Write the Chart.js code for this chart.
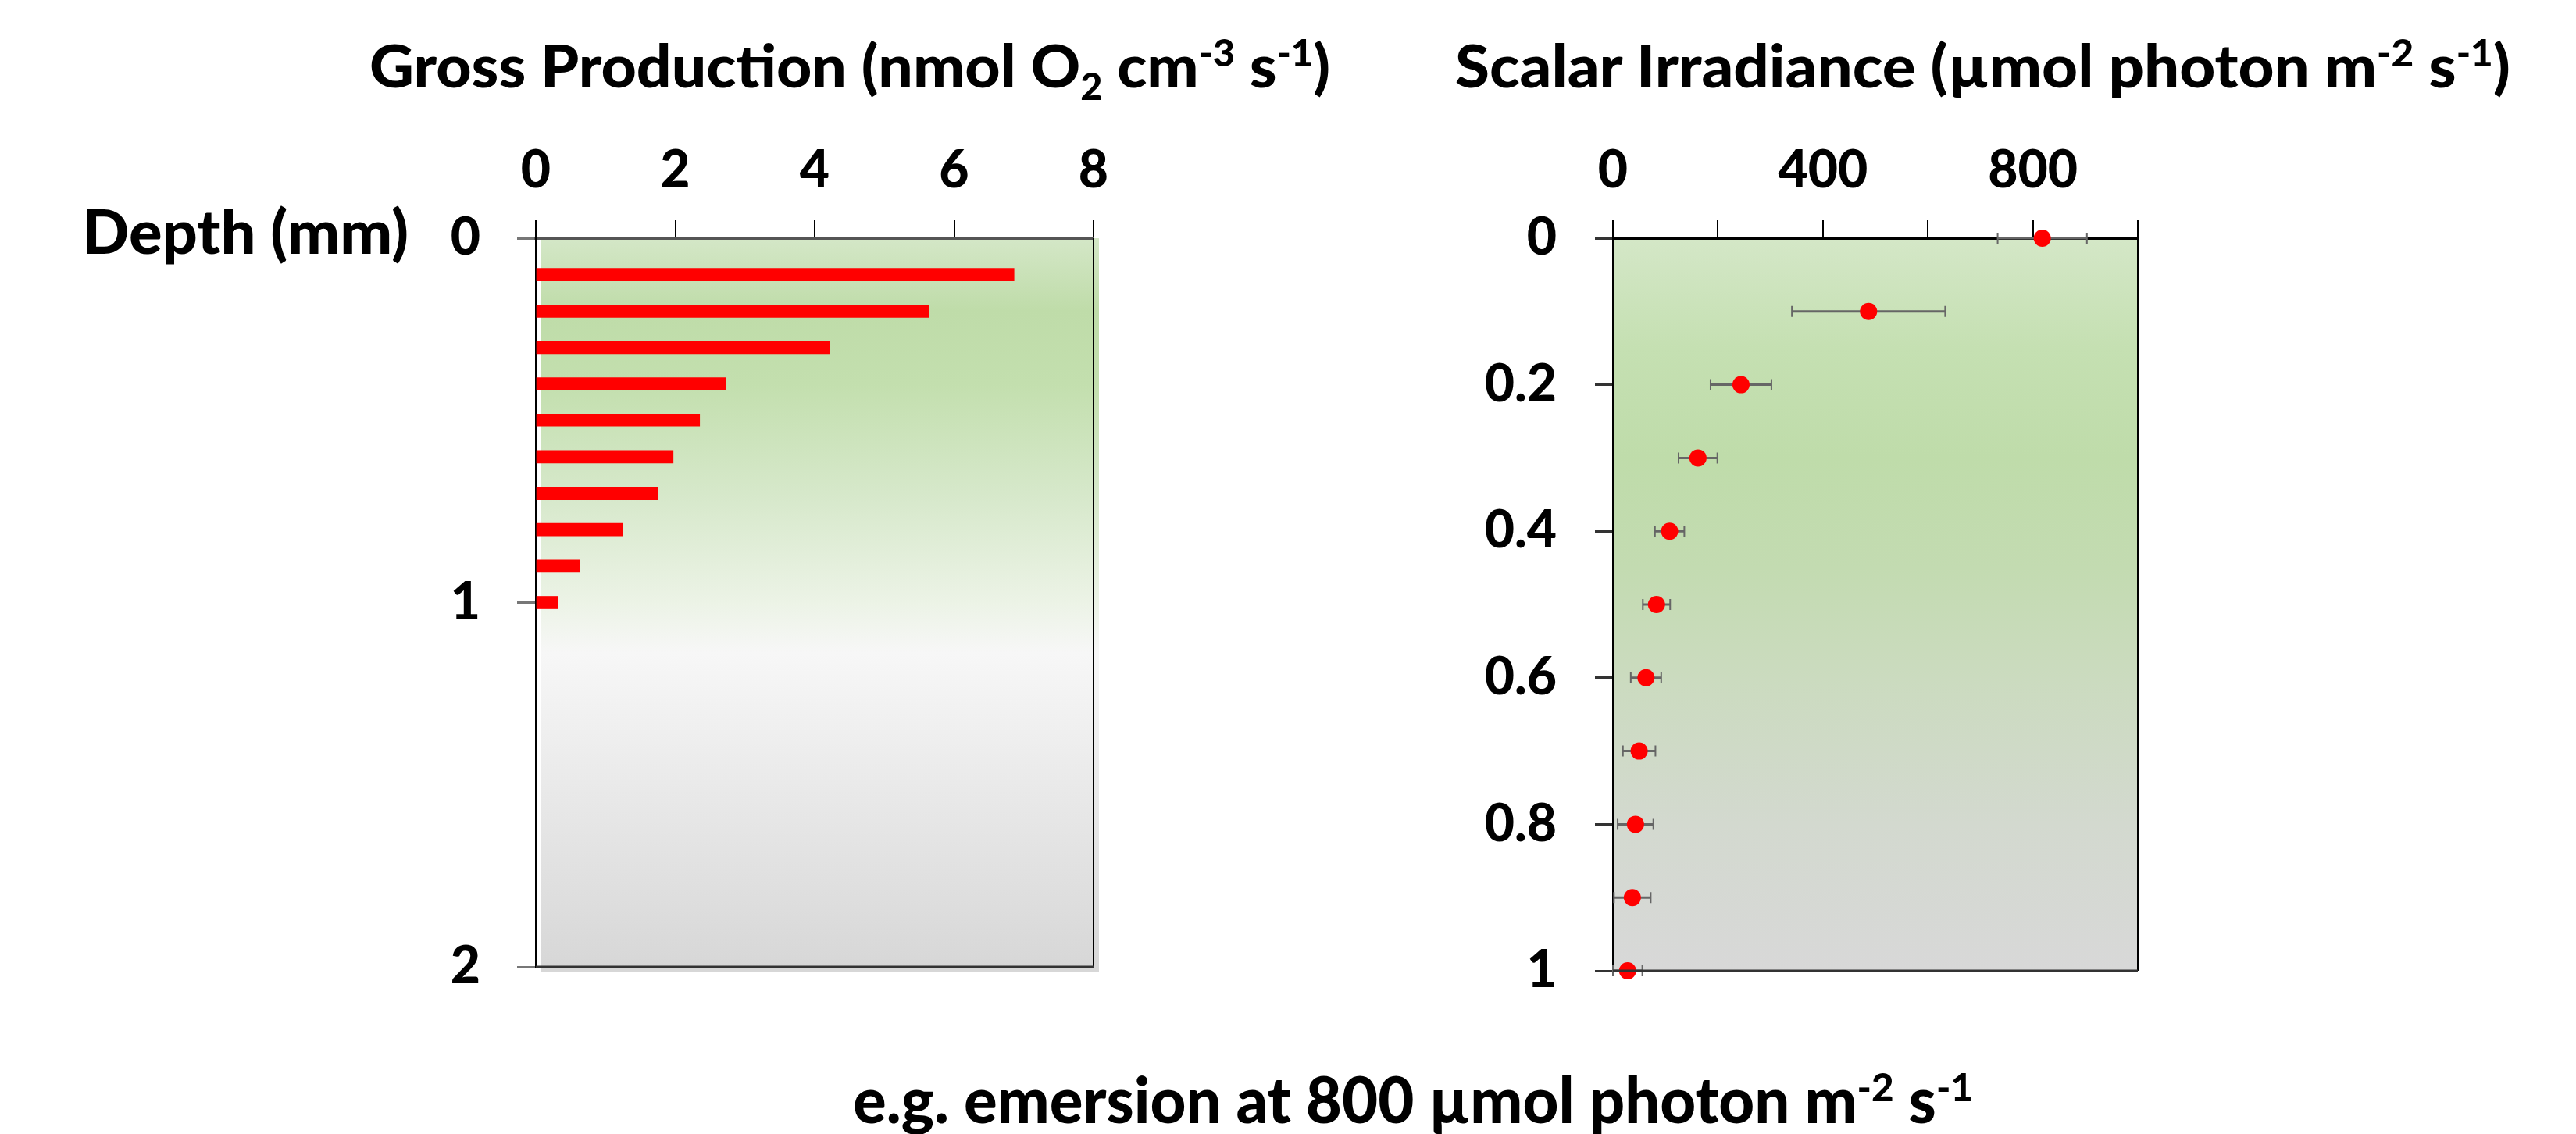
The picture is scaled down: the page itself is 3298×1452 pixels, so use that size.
<!DOCTYPE html>
<html>
<head>
<meta charset="utf-8">
<script src="https://cdn.jsdelivr.net/npm/chart.js@4.4.1/dist/chart.umd.min.js"></script>
<style>
  html, body { margin:0; padding:0; background:#fff; }
  body { width:3298px; height:1452px; position:relative; overflow:hidden; font-family:Lato, "Open Sans", sans-serif; }
  .box { position:absolute; }
  .lbl { position:absolute; white-space:nowrap; color:#000; font-weight:900; line-height:1; transform-origin:0 0; }
  .lbl sup, .lbl sub { font-size:0.62em; line-height:0; }
</style>
</head>
<body>
<div class="box" style="left:0;top:0;width:1460px;height:1400px"><canvas id="prodChart"></canvas></div>
<div class="box" style="left:1700px;top:0;width:1100px;height:1400px"><canvas id="lightChart"></canvas></div>

<div class="lbl" id="prodTitle" style="font-size:77px">Gross Production (nmol O<sub>2</sub> cm<sup>-3</sup> s<sup>-1</sup>)</div>
<div class="lbl" id="lightTitle" style="font-size:77px">Scalar Irradiance (µmol photon m<sup>-2</sup> s<sup>-1</sup>)</div>
<div class="lbl" id="depthTitle" style="font-size:79px">Depth (mm)</div>
<div class="lbl" id="caption" style="font-size:81px">e.g. emersion at 800 µmol photon m<sup>-2</sup> s<sup>-1</sup></div>

<script>
// gross production profile (bars)
const prodDepth = [0.1, 0.2, 0.3, 0.4, 0.5, 0.6, 0.7, 0.8, 0.9, 1.0];
const grossProduction = [6.86, 5.64, 4.21, 2.72, 2.35, 1.97, 1.75, 1.24, 0.63, 0.31];

// scalar irradiance profile (points with SD)
const lightDepth = [0, 0.1, 0.2, 0.3, 0.4, 0.5, 0.6, 0.7, 0.8, 0.9, 1.0];
const irradiance = [818, 487, 244, 162, 108, 83, 63, 50, 43, 37, 28];
const irradianceSD = [85, 146, 58, 37, 28, 26, 29, 31, 34, 35, 28];

// tick labels
const prodTickLabels = [0, 2, 4, 6, 8];
const prodDepthLabels = [0, 1, 2];
const lightTickLabels = [0, 400, 800];
const lightDepthLabels = [0, 0.2, 0.4, 0.6, 0.8, 1];

Chart.defaults.font.family = 'Lato';
Chart.defaults.font.weight = 900;
Chart.defaults.color = '#000';

function placeLabel(id, x, width, baseline) {
  const el = document.getElementById(id);
  el.style.left = x + 'px';
  el.style.top = '0px';
  const mark = document.createElement('span');
  mark.style.cssText = 'display:inline-block;width:0;height:0;vertical-align:baseline';
  el.appendChild(mark);
  const w = el.getBoundingClientRect().width;
  const b = mark.getBoundingClientRect().top;
  el.style.transform = 'scaleX(' + (width / w) + ')';
  el.style.top = (baseline - b) + 'px';
}
placeLabel('prodTitle', 473, 1230, 112);
placeLabel('lightTitle', 1863, 1351, 112);
placeLabel('depthTitle', 105, 418, 325);
placeLabel('caption', 1092, 1434, 1438);

// gradient behind the plot area
const plotBackground = {
  id: 'plotBackground',
  beforeDraw(chart, args, opts) {
    const { ctx, chartArea: a } = chart;
    const dx = opts.shift || 0;
    const g = ctx.createLinearGradient(0, a.top, 0, a.bottom);
    opts.stops.forEach(s => g.addColorStop(s[0], s[1]));
    ctx.save();
    ctx.fillStyle = g;
    ctx.fillRect(a.left + dx, a.top, a.right - a.left, a.bottom - a.top + dx);
    ctx.restore();
  }
};

// right and bottom sides of the box
const frame = {
  id: 'frame',
  afterDatasetsDraw(chart) {
    const { ctx, chartArea: a } = chart;
    ctx.save();
    ctx.strokeStyle = '#000';
    ctx.lineWidth = 2;
    ctx.beginPath();
    ctx.moveTo(a.right, a.top);
    ctx.lineTo(a.right, a.bottom);
    ctx.stroke();
    ctx.strokeStyle = '#333';
    ctx.lineWidth = 3;
    ctx.beginPath();
    ctx.moveTo(a.left, a.bottom);
    ctx.lineTo(a.right, a.bottom);
    ctx.stroke();
    ctx.restore();
  }
};

// horizontal SD bars
const errorBars = {
  id: 'errorBars',
  beforeDatasetsDraw(chart) {
    const { ctx, scales: { x, y } } = chart;
    ctx.save();
    ctx.strokeStyle = '#666';
    lightDepth.forEach((d, i) => {
      const py = y.getPixelForValue(d);
      const x0 = x.getPixelForValue(Math.max(0, irradiance[i] - irradianceSD[i]));
      const x1 = x.getPixelForValue(irradiance[i] + irradianceSD[i]);
      ctx.lineWidth = 3;
      ctx.beginPath();
      ctx.moveTo(x0, py);
      ctx.lineTo(x1, py);
      ctx.stroke();
      ctx.lineWidth = 2;
      ctx.beginPath();
      ctx.moveTo(x0, py - 7); ctx.lineTo(x0, py + 7);
      ctx.moveTo(x1, py - 7); ctx.lineTo(x1, py + 7);
      ctx.stroke();
    });
    ctx.restore();
  }
};

new Chart(document.getElementById('prodChart'), {
  type: 'bar',
  data: {
    datasets: [{
      data: prodDepth.map((d, i) => ({ x: grossProduction[i], y: d })),
      backgroundColor: '#ff0000',
      borderWidth: 0,
      barThickness: 16
    }]
  },
  options: {
    indexAxis: 'y',
    responsive: true,
    maintainAspectRatio: false,
    animation: false,
    devicePixelRatio: 1,
    layout: { padding: { left: 386, right: 60, top: 145, bottom: 162 } },
    plugins: {
      legend: { display: false },
      tooltip: { enabled: false },
      plotBackground: {
        shift: 7,
        stops: [[0, '#d4e7c7'], [0.1, '#bfdca9'], [0.2, '#c3dfae'], [0.35, '#d6e8ca'],
                [0.5, '#ecf3e6'], [0.57, '#f7f7f7'], [1, '#d7d7d7']]
      }
    },
    scales: {
      x: {
        type: 'linear', position: 'top', min: 0, max: 8,
        afterBuildTicks: s => { s.ticks = prodTickLabels.map(v => ({ value: v })); },
        afterFit: s => { s.height = 160; },
        grid: { drawOnChartArea: false, tickLength: 23, color: '#000', lineWidth: 2 },
        border: { display: true, color: '#555', width: 4 },
        ticks: { font: { size: 66 }, padding: 24, maxRotation: 0 }
      },
      y: {
        type: 'linear', reverse: true, min: 0, max: 2, offset: false,
        afterBuildTicks: s => { s.ticks = prodDepthLabels.map(v => ({ value: v })); },
        afterFit: s => { s.width = 300; },
        grid: { drawOnChartArea: false, offset: false, tickLength: 24, color: '#777', lineWidth: 3 },
        border: { display: true, color: '#000', width: 2 },
        ticks: { font: { size: 66 }, padding: 47 }
      }
    }
  },
  plugins: [plotBackground, frame]
});

new Chart(document.getElementById('lightChart'), {
  type: 'scatter',
  data: {
    datasets: [{
      data: lightDepth.map((d, i) => ({ x: irradiance[i], y: d })),
      backgroundColor: '#ff0000',
      borderWidth: 0,
      pointRadius: 11,
      clip: false
    }]
  },
  options: {
    responsive: true,
    maintainAspectRatio: false,
    animation: false,
    devicePixelRatio: 1,
    layout: { padding: { left: 65, right: 63, top: 145, bottom: 157 } },
    plugins: {
      legend: { display: false },
      tooltip: { enabled: false },
      plotBackground: {
        shift: 0,
        stops: [[0, '#d4e7c7'], [0.15, '#c5e0b2'], [0.3, '#bfdcaa'], [0.45, '#c3dbb1'],
                [0.6, '#cbdbbf'], [0.8, '#d3d9cf'], [1, '#d8d8d8']]
      }
    },
    scales: {
      x: {
        type: 'linear', position: 'top', min: 0, max: 1000,
        ticks: {
          stepSize: 200, font: { size: 66 }, padding: 24, maxRotation: 0,
          callback: v => lightTickLabels.includes(v) ? String(v) : ''
        },
        afterFit: s => { s.height = 160; },
        grid: { drawOnChartArea: false, tickLength: 23, color: '#000', lineWidth: 2 },
        border: { display: true, color: '#000', width: 3 }
      },
      y: {
        type: 'linear', reverse: true, min: 0, max: 1,
        afterBuildTicks: s => { s.ticks = lightDepthLabels.map(v => ({ value: v })); },
        afterFit: s => { s.width = 300; },
        grid: { drawOnChartArea: false, tickLength: 23, color: '#333', lineWidth: 3 },
        border: { display: true, color: '#000', width: 3 },
        ticks: { font: { size: 66 }, padding: 49, callback: v => String(Number(v.toFixed(1))) }
      }
    }
  },
  plugins: [plotBackground, frame, errorBars]
});
</script>
</body>
</html>
